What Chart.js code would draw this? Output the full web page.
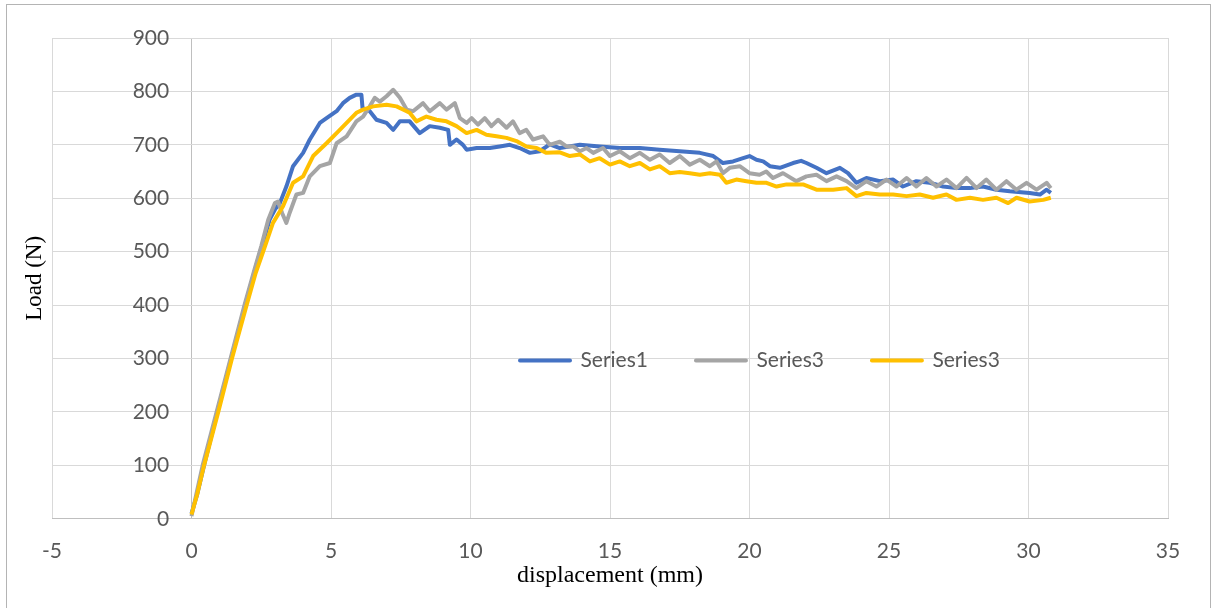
<!DOCTYPE html>
<html>
<head>
<meta charset="utf-8">
<script src="https://cdn.jsdelivr.net/npm/chart.js@4.4.1/dist/chart.umd.min.js"></script>
<style>
  html, body { margin: 0; padding: 0; background: #fff; }
  #wrap { position: relative; width: 1213px; height: 608px; overflow: hidden; }
  #frame { position: absolute; left: 6px; top: 4px; width: 1203px; height: 640px; border: 1px solid #b4b4b4; pointer-events: none; }
  canvas { position: absolute; left: 0; top: 0; }
</style>
</head>
<body>
<div id="wrap">
  <canvas id="chart" width="1213" height="608"></canvas>
  <div id="frame"></div>
</div>
<script>
/* load-displacement curves */

const X_MIN = -5, X_MAX = 35, X_STEP = 5;
const Y_MIN = 0, Y_MAX = 900, Y_STEP = 100;
const Y_LABEL_AT = -0.8;   // y tick labels sit just left of x = 0

const seriesNames  = ['Series1', 'Series3', 'Series3'];
const seriesColors = ['#4472C4', '#A5A5A5', '#FFC000'];

// Series1 (blue)
const s1X = [0,0.2,0.45,0.95,1.45,1.95,2.3,2.55,2.8,3.0,3.16,
  3.4,3.64,4.0,4.24,4.6,4.84,5.2,5.43,5.67,5.91,
  6.09,6.13,6.39,6.63,6.99,7.23,7.47,7.82,8.18,8.54,
  8.9,9.2,9.26,9.5,9.73,9.86,10.22,10.69,11.05,11.41,
  11.76,12.13,12.48,12.84,13.2,13.92,14.63,15.35,16.07,16.78,
  17.5,18.22,18.7,19.05,19.41,19.77,20.0,20.25,20.49,20.73,
  21.09,21.56,21.85,22.04,22.4,22.76,23.24,23.53,23.83,24.19,
  24.67,25.15,25.5,25.98,26.46,26.94,27.42,27.9,28.37,28.85,
  29.33,30.04,30.41,30.65,30.8];
const s1Y = [10,45,100,205,305,405,470,515,560,580,590,
  622,660,685,710,741,750,763,778,788,794,
  794,769,763,747,741,728,744,744,722,735,
  732,728,700,710,700,691,694,694,697,700,
  694,685,688,701,694,700,697,694,694,691,
  688,685,679,666,669,675,679,672,669,660,
  657,666,670,666,657,647,657,647,629,638,
  632,635,622,632,629,622,619,619,622,616,
  613,610,607,616,610];

// Series3 (grey)
const s2X = [0,0.4,0.9,1.4,1.9,2.25,2.5,2.75,2.99,3.1,
  3.25,3.4,3.52,3.76,4.0,4.24,4.6,4.96,5.2,5.56,
  5.91,6.15,6.39,6.57,6.75,6.99,7.23,7.47,7.71,7.94,
  8.3,8.54,8.9,9.14,9.44,9.62,9.86,10.04,10.27,10.51,
  10.75,10.99,11.29,11.52,11.76,12.0,12.24,12.6,12.84,13.2,
  13.44,13.68,13.92,14.16,14.4,14.75,15.0,15.35,15.71,16.07,
  16.43,16.78,17.14,17.5,17.86,18.22,18.58,18.82,19.05,19.29,
  19.65,20.0,20.36,20.6,20.84,21.2,21.68,22.04,22.4,22.76,
  23.12,23.48,23.83,24.19,24.55,24.91,25.27,25.63,25.98,26.34,
  26.7,27.06,27.42,27.78,28.14,28.49,28.85,29.21,29.57,29.93,
  30.29,30.65,30.8];
const s2Y = [5,100,200,300,400,465,510,560,591,594,
  572,554,573,607,610,641,660,666,703,716,
  744,753,772,788,781,791,803,788,766,763,
  778,763,778,766,778,750,741,750,738,750,
  735,747,732,744,722,728,710,716,700,706,
  697,697,688,694,685,694,679,688,675,685,
  672,682,666,679,663,672,660,669,647,657,
  660,647,644,650,638,647,632,641,644,632,
  641,632,619,632,622,635,622,638,622,638,
  622,635,619,638,619,635,616,632,616,629,
  616,629,619];

// Series3 (yellow)
const s3X = [0,0.2,0.45,0.95,1.45,1.95,2.3,2.6,2.92,3.28,
  3.64,4.0,4.36,4.84,5.2,5.56,5.91,6.15,6.51,6.99,
  7.35,7.71,7.82,8.06,8.42,8.78,9.14,9.5,9.86,10.22,
  10.57,10.93,11.29,11.65,12.0,12.37,12.72,13.2,13.56,13.92,
  14.28,14.63,15.0,15.35,15.71,16.07,16.43,16.78,17.14,17.5,
  17.86,18.22,18.58,18.94,19.17,19.53,19.89,20.25,20.61,20.97,
  21.33,21.92,22.4,23.0,23.48,23.83,24.19,24.67,25.15,25.63,
  26.1,26.58,27.06,27.42,27.9,28.37,28.85,29.27,29.57,30.04,
  30.53,30.8];
const s3Y = [8,45,100,198,300,395,460,505,554,585,
  629,641,679,703,722,741,760,766,772,775,
  772,763,760,744,753,747,744,735,722,728,
  719,716,713,707,697,694,685,686,679,682,
  669,675,663,669,660,666,654,660,647,649,
  647,644,647,644,629,635,632,629,629,622,
  626,626,616,616,619,604,610,607,607,604,
  607,601,607,597,601,597,601,591,601,594,
  597,601];

const LEGEND_X = 520;   // left of first legend line
const LEGEND_Y = 350;   // top of legend row
const TICK_COLOR = '#595959';
const GRID_COLOR = '#d9d9d9';
const AXIS_COLOR = '#bfbfbf';
const TICK_FONT = { family: 'Lato', size: 21, lineHeight: 1.2 };
const TITLE_FONT = 'Liberation Serif';

const pts = (xs, ys) => xs.map((x, i) => ({ x, y: ys[i] }));
const allX = [s1X, s2X, s3X];
const allY = [s1Y, s2Y, s3Y];
const gridColor = c => (c.tick && c.tick.value === 0 ? AXIS_COLOR : GRID_COLOR);

// move the legend box into the plot area
const legendInPlot = {
  id: 'legendInPlot',
  afterLayout(chart) {
    const lg = chart.legend;
    if (!lg || !lg.lineWidths) return;
    const pad = lg.options.labels.padding;
    lg.top = LEGEND_Y - pad;
    lg.bottom = lg.top + pad + 40;
    lg.left = 0;
    lg.right = 2 * LEGEND_X - pad + lg.lineWidths[0];
  }
};

const datasets = seriesNames.map((name, i) => ({
  label: name,
  data: pts(allX[i], allY[i]),
  borderColor: seriesColors[i],
  backgroundColor: seriesColors[i],
  borderWidth: 4,
  borderJoinStyle: 'round',
  pointRadius: 0,
  tension: 0,
  fill: false,
  order: 3 - i,
  xAxisID: 'x',
  yAxisID: 'y',
}));

new Chart(document.getElementById('chart'), {
  type: 'line',
  data: { datasets },
  plugins: [legendInPlot],
  options: {
    responsive: false,
    animation: false,
    layout: { padding: { left: 19, right: 45, top: 37, bottom: 16 } },
    plugins: {
      legend: {
        position: 'top',
        maxHeight: 1,
        labels: {
          boxWidth: 50, boxHeight: 0, padding: 48,
          color: TICK_COLOR, font: { family: 'Lato', size: 21 },
          sort: (a, b) => a.datasetIndex - b.datasetIndex,
        },
      },
      tooltip: { enabled: false },
    },
    scales: {
      x: {
        type: 'linear', position: 'bottom', min: X_MIN, max: X_MAX,
        ticks: { stepSize: X_STEP, padding: 20, color: TICK_COLOR, font: TICK_FONT },
        grid: { color: gridColor, drawTicks: false },
        border: { color: AXIS_COLOR },
        title: { display: true, text: 'displacement (mm)', color: '#000',
          font: { family: TITLE_FONT, size: 24, lineHeight: 1 }, padding: { top: -20, bottom: 4 } },
      },
      y: {
        type: 'linear', position: { x: Y_LABEL_AT }, min: Y_MIN, max: Y_MAX,
        ticks: { stepSize: Y_STEP, color: TICK_COLOR, font: TICK_FONT },
        grid: { color: gridColor, drawTicks: false },
        border: { display: false },
      },
      yTitle: {
        type: 'linear', axis: 'y', position: 'left', min: Y_MIN, max: Y_MAX,
        ticks: { display: false },
        grid: { display: false, drawTicks: false },
        border: { display: false },
        title: { display: true, text: 'Load (N)', color: '#000',
          font: { family: TITLE_FONT, size: 23, lineHeight: 1 }, padding: { top: 4, bottom: 6 } },
      },
    },
  },
});
</script>
</body>
</html>
